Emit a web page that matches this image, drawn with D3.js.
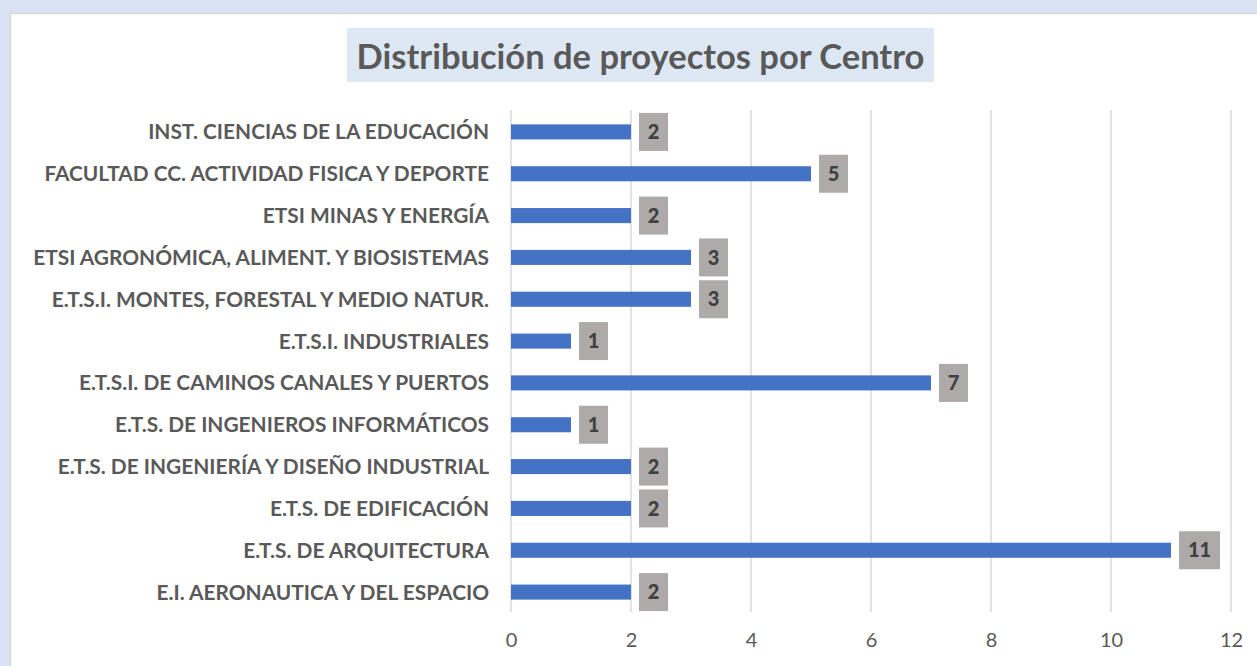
<!DOCTYPE html>
<html><head><meta charset="utf-8">
<script src="https://cdn.jsdelivr.net/npm/d3@7"></script>
<style>
html,body{margin:0;padding:0;background:#dae3f3;overflow:hidden;}
</style></head>
<body>
<svg id="c" width="1257" height="666"></svg>
<script>
const categories = [
  "INST. CIENCIAS DE LA EDUCACIÓN",
  "FACULTAD CC. ACTIVIDAD FISICA Y DEPORTE",
  "ETSI MINAS Y ENERGÍA",
  "ETSI AGRONÓMICA, ALIMENT. Y BIOSISTEMAS",
  "E.T.S.I. MONTES, FORESTAL Y MEDIO NATUR.",
  "E.T.S.I. INDUSTRIALES",
  "E.T.S.I. DE CAMINOS CANALES Y PUERTOS",
  "E.T.S. DE INGENIEROS INFORMÁTICOS",
  "E.T.S. DE INGENIERÍA Y DISEÑO INDUSTRIAL",
  "E.T.S. DE EDIFICACIÓN",
  "E.T.S. DE ARQUITECTURA",
  "E.I. AERONAUTICA Y DEL ESPACIO"
];
const values = [2, 5, 2, 3, 3, 1, 7, 1, 2, 2, 11, 2];
const xTicks = [0, 2, 4, 6, 8, 10, 12];
const title = "Distribución de proyectos por Centro";

const svg = d3.select("#c");
const font = "Lato, 'Open Sans', sans-serif";

// panel
svg.append("rect").attr("x", 10.5).attr("y", 13.5).attr("width", 1260).attr("height", 700)
  .attr("fill", "#fff").attr("stroke", "#d9d9d9").attr("stroke-width", 1.5);

const pLeft = 511, pRight = 1231, pTop = 111, pBottom = 613;
const x = d3.scaleLinear().domain([0, 12]).range([pLeft, pRight]);
const y = d3.scaleBand().domain(categories).range([pTop, pBottom]).paddingInner(0.64).paddingOuter(0.32);

// gridlines
svg.append("g").selectAll("line").data(xTicks).join("line")
  .attr("x1", d => x(d)).attr("x2", d => x(d)).attr("y1", pTop - 1).attr("y2", pBottom - 1)
  .attr("stroke", "#d9d9d9").attr("stroke-width", 1.5);

// x axis labels
const xAxis = d3.axisBottom(x).tickValues(xTicks).tickSize(0).tickPadding(0).tickFormat(d3.format("d"));
const gx = svg.append("g").attr("transform", `translate(0,${pBottom + 20})`).call(xAxis);
gx.select(".domain").remove();
gx.selectAll("text").attr("font-family", font).attr("font-size", 20).attr("fill", "#595959").attr("dy", "0.71em");

// bars
svg.append("g").selectAll("rect").data(values).join("rect")
  .attr("x", x(0)).attr("y", (d, i) => y(categories[i]))
  .attr("width", d => x(d) - x(0)).attr("height", y.bandwidth())
  .attr("fill", "#4472c4");

// data labels
const lab = svg.append("g").selectAll("g").data(values).join("g")
  .attr("transform", (d, i) => `translate(${x(d) + 8},${y(categories[i]) + y.bandwidth() / 2})`);
lab.append("rect").attr("x", 0).attr("y", -19).attr("height", 38)
  .attr("width", d => String(d).length > 1 ? 41 : 29).attr("fill", "#aeaaaa");
lab.append("text").attr("x", d => String(d).length > 1 ? 20.5 : 14.5).attr("y", 0)
  .attr("dy", "0.36em").attr("text-anchor", "middle")
  .attr("font-family", font).attr("font-weight", "900").attr("font-size", 20).attr("fill", "#404040")
  .text(d => d);

// y axis labels
const yAxis = d3.axisLeft(y).tickSize(0).tickPadding(0);
const gy = svg.append("g").attr("transform", `translate(489,0)`).call(yAxis);
gy.select(".domain").remove();
const yl = gy.selectAll("text").attr("font-family", font).attr("font-weight", "bold")
  .attr("font-size", 17).attr("fill", "#595959").attr("dy", "0.36em");
let maxW = 0;
yl.each(function () { maxW = Math.max(maxW, this.getComputedTextLength()); });
yl.attr("font-size", 17 * 456 / maxW);

// title
const tg = svg.append("g");
tg.append("rect").attr("x", 347).attr("y", 28).attr("width", 587).attr("height", 54).attr("fill", "#dee8f5");
const tt = tg.append("text").attr("x", 640.5).attr("y", 57).attr("dy", "0.36em").attr("text-anchor", "middle")
  .attr("font-family", font).attr("font-weight", "bold").attr("font-size", 32).attr("fill", "#595959").text(title);
const tw = tt.node().getComputedTextLength();
tt.attr("font-size", 32 * 568 / tw);
</script>
</body></html>
